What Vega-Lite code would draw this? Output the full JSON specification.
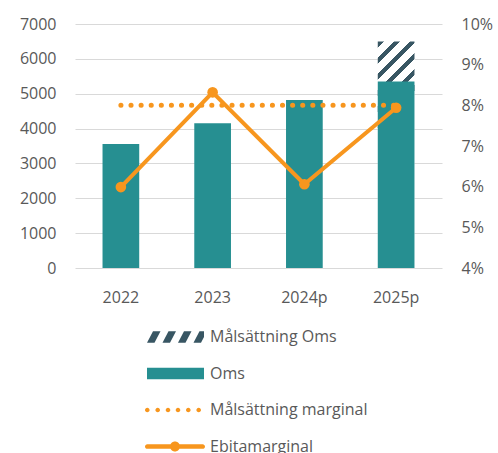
{
  "$schema": "https://vega.github.io/schema/vega-lite/v6.json",
  "width": 367,
  "height": 244,
  "autosize": {"type": "none"},
  "padding": {"left": 75, "top": 24, "right": 56, "bottom": 185},
  "background": "white",
  "config": {
    "view": {"stroke": null},
    "font": "Open Sans",
    "axis": {"labelFont": "Open Sans", "labelFontSize": 16, "labelColor": "#595959", "ticks": false, "tickSize": 0, "domain": false, "title": null},
    "legend": {"labelFont": "Open Sans"}
  },
  "data": {
    "values": [
      {"year": "2022", "series": "Oms", "value": 3555},
      {"year": "2023", "series": "Oms", "value": 4150},
      {"year": "2024p", "series": "Oms", "value": 4820},
      {"year": "2025p", "series": "Oms", "value": 5350},
      {"year": "2025p", "series": "Målsättning Oms", "value": 6500},
      {"year": "2022", "series": "Målsättning marginal", "value": 0.08},
      {"year": "2023", "series": "Målsättning marginal", "value": 0.08},
      {"year": "2024p", "series": "Målsättning marginal", "value": 0.08},
      {"year": "2025p", "series": "Målsättning marginal", "value": 0.08},
      {"year": "2022", "series": "Ebitamarginal", "value": 0.0599},
      {"year": "2023", "series": "Ebitamarginal", "value": 0.0832},
      {"year": "2024p", "series": "Ebitamarginal", "value": 0.0606},
      {"year": "2025p", "series": "Ebitamarginal", "value": 0.0794}
    ]
  },
  "encoding": {
    "x": {
      "field": "year",
      "type": "ordinal",
      "sort": ["2022", "2023", "2024p", "2025p"],
      "scale": {"paddingInner": 0.6, "paddingOuter": 0.3},
      "axis": {"labelAngle": 0, "labelPadding": 21, "grid": false}
    }
  },
  "layer": [
    {
      "layer": [
        {
          "transform": [{"filter": "datum.series === 'Målsättning Oms'"}],
          "mark": {
            "type": "bar",
            "fill": {
              "gradient": "linear",
              "x1": 0, "y1": 0, "x2": 0.162, "y2": 1,
              "stops": [
                {"offset": 0, "color": "#385663"},
                {"offset": 0.0289, "color": "#385663"},
                {"offset": 0.0289, "color": "#ffffff"},
                {"offset": 0.0688, "color": "#ffffff"},
                {"offset": 0.0688, "color": "#385663"},
                {"offset": 0.0977, "color": "#385663"},
                {"offset": 0.0977, "color": "#ffffff"},
                {"offset": 0.1376, "color": "#ffffff"},
                {"offset": 0.1376, "color": "#385663"},
                {"offset": 0.1665, "color": "#385663"},
                {"offset": 0.1665, "color": "#ffffff"},
                {"offset": 0.2064, "color": "#ffffff"},
                {"offset": 0.2064, "color": "#385663"},
                {"offset": 0.2353, "color": "#385663"},
                {"offset": 0.2353, "color": "#ffffff"},
                {"offset": 0.2752, "color": "#ffffff"},
                {"offset": 0.2752, "color": "#385663"},
                {"offset": 0.3041, "color": "#385663"},
                {"offset": 0.3041, "color": "#ffffff"},
                {"offset": 0.344, "color": "#ffffff"},
                {"offset": 0.344, "color": "#385663"},
                {"offset": 0.3729, "color": "#385663"},
                {"offset": 0.3729, "color": "#ffffff"},
                {"offset": 1, "color": "#ffffff"}
              ]
            }
          },
          "encoding": {
            "y": {
              "field": "value",
              "type": "quantitative",
              "scale": {"domain": [0, 7000], "nice": false},
              "axis": {"values": [0, 1000, 2000, 3000, 4000, 5000, 6000, 7000], "format": "d", "labelPadding": 19, "grid": true, "gridColor": "#d9d9d9", "gridWidth": 1}
            }
          }
        },
        {
          "transform": [{"filter": "datum.series === 'Oms'"}],
          "mark": {"type": "bar", "color": "#268f91"},
          "encoding": {
            "y": {
              "field": "value",
              "type": "quantitative",
              "scale": {"domain": [0, 7000], "nice": false},
              "axis": {"values": [0, 1000, 2000, 3000, 4000, 5000, 6000, 7000], "format": "d", "labelPadding": 19, "grid": true, "gridColor": "#d9d9d9", "gridWidth": 1}
            }
          }
        }
      ]
    },
    {
      "layer": [
        {
          "transform": [{"filter": "datum.series === 'Målsättning marginal'"}],
          "mark": {"type": "line", "color": "#f7961e", "strokeWidth": 5, "strokeDash": [0.1, 10], "strokeCap": "round"},
          "encoding": {
            "y": {
              "field": "value",
              "type": "quantitative",
              "scale": {"domain": [0.04, 0.1], "nice": false, "zero": false},
              "axis": {"orient": "right", "values": [0.04, 0.05, 0.06, 0.07, 0.08, 0.09, 0.1], "format": ".0%", "labelPadding": 19, "grid": false}
            }
          }
        },
        {
          "transform": [{"filter": "datum.series === 'Ebitamarginal'"}],
          "mark": {"type": "line", "color": "#f7961e", "strokeWidth": 4},
          "encoding": {
            "y": {
              "field": "value",
              "type": "quantitative",
              "scale": {"domain": [0.04, 0.1], "nice": false, "zero": false},
              "axis": {"orient": "right", "values": [0.04, 0.05, 0.06, 0.07, 0.08, 0.09, 0.1], "format": ".0%", "labelPadding": 19, "grid": false}
            }
          }
        },
        {
          "transform": [{"filter": "datum.series === 'Ebitamarginal'"}],
          "mark": {"type": "point", "filled": true, "opacity": 1, "color": "#f7961e", "size": 113},
          "encoding": {
            "y": {
              "field": "value",
              "type": "quantitative",
              "scale": {"domain": [0.04, 0.1], "nice": false, "zero": false},
              "axis": {"orient": "right", "values": [0.04, 0.05, 0.06, 0.07, 0.08, 0.09, 0.1], "format": ".0%", "labelPadding": 19, "grid": false}
            }
          }
        }
      ]
    },
    {
      "mark": {"type": "point", "size": 0, "filled": true, "opacity": 1},
      "encoding": {
        "color": {
          "field": "series",
          "type": "nominal",
          "scale": {
            "domain": ["Målsättning Oms", "Oms", "Målsättning marginal", "Ebitamarginal"],
            "range": ["#385663", "#268f91", "#f7961e", "#f7961e"]
          },
          "legend": {
            "title": null,
            "orient": "none",
            "legendX": 72,
            "legendY": 304.5,
            "direction": "vertical",
            "padding": 0,
            "symbolSize": 289,
            "symbolStrokeWidth": 0,
            "symbolOffset": 0,
            "symbolOpacity": 1,
            "rowPadding": 19.5,
            "labelFontSize": 16,
            "labelColor": "#595959",
            "labelOffset": 46,
            "labelLimit": 400
          }
        },
        "shape": {
          "field": "series",
          "type": "nominal",
          "scale": {
            "domain": ["Målsättning Oms", "Oms", "Målsättning marginal", "Ebitamarginal"],
            "range": [
              "M-1,0.67L-0.118,0.67L0.588,-0.67L-0.294,-0.67Z M0.824,0.67L1.706,0.67L2.412,-0.67L1.529,-0.67Z M2.647,0.67L3.529,0.67L4.235,-0.67L3.353,-0.67Z M4.471,0.67L5.353,0.67L5.706,0L5.706,-0.67L5.176,-0.67Z",
              "M-1,-0.68H5.706V0.68H-1Z",
              "M-1.235,0A0.27,0.27,0,1,1,-0.695,0A0.27,0.27,0,1,1,-1.235,0Z M-0.011,0A0.27,0.27,0,1,1,0.529,0A0.27,0.27,0,1,1,-0.011,0Z M1.201,0A0.27,0.27,0,1,1,1.741,0A0.27,0.27,0,1,1,1.201,0Z M2.377,0A0.27,0.27,0,1,1,2.917,0A0.27,0.27,0,1,1,2.377,0Z M3.589,0A0.27,0.27,0,1,1,4.129,0A0.27,0.27,0,1,1,3.589,0Z M4.812,0A0.27,0.27,0,1,1,5.352,0A0.27,0.27,0,1,1,4.812,0Z",
              "M-0.959,-0.276H5.547A0.276,0.276,0,0,1,5.547,0.276H-0.959A0.276,0.276,0,0,1,-0.959,-0.276Z M1.706,0A0.588,0.588,0,1,1,2.882,0A0.588,0.588,0,1,1,1.706,0Z"
            ]
          },
          "legend": {
            "title": null,
            "orient": "none",
            "legendX": 72,
            "legendY": 304.5,
            "direction": "vertical",
            "padding": 0,
            "symbolSize": 289,
            "symbolStrokeWidth": 0,
            "symbolOffset": 0,
            "symbolOpacity": 1,
            "rowPadding": 19.5,
            "labelFontSize": 16,
            "labelColor": "#595959",
            "labelOffset": 46,
            "labelLimit": 400
          }
        }
      }
    }
  ],
  "resolve": {"scale": {"y": "independent"}}
}
